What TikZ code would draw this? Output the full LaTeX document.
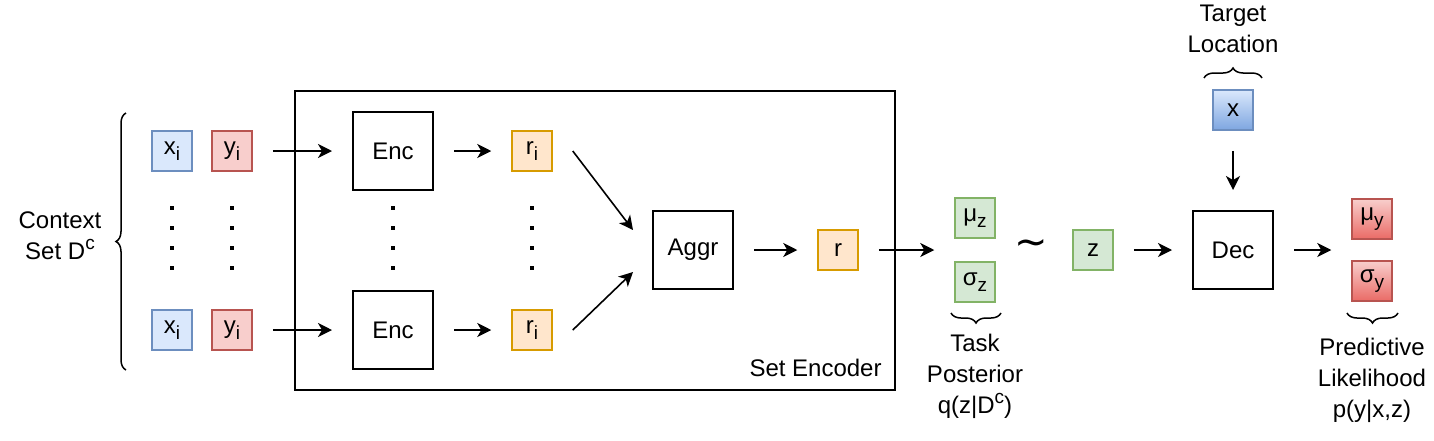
\documentclass[tikz,border=0pt]{standalone}
\usepackage{fontspec}
\setmainfont{Liberation Sans}
\newfontfamily\symfont{DejaVu Sans}
\usetikzlibrary{arrows.meta,calc,positioning,decorations.pathreplacing}

\definecolor{xfill}{HTML}{DAE8FC}
\definecolor{xline}{HTML}{6C8EBF}
\definecolor{yfill}{HTML}{F8CECC}
\definecolor{yline}{HTML}{B85450}
\definecolor{rfill}{HTML}{FFE6CC}
\definecolor{rline}{HTML}{D79B00}
\definecolor{zfill}{HTML}{D5E8D4}
\definecolor{zline}{HTML}{82B366}
\definecolor{xdark}{HTML}{7EA6E0}
\definecolor{ydark}{HTML}{EA6B66}

\newcommand{\lowidx}[1]{\raisebox{-0.45ex}{\fontsize{9.5}{9.5}\selectfont #1}}
\newcommand{\highidx}[1]{\raisebox{0.8ex}{\fontsize{9.5}{9.5}\selectfont #1}}

\tikzset{
  cell/.style={draw, line width=0.75pt, minimum width=20pt, minimum height=20pt, inner sep=0pt},
  xcell/.style={cell, draw=xline, fill=xfill},
  ycell/.style={cell, draw=yline, fill=yfill},
  rcell/.style={cell, draw=rline, fill=rfill},
  zcell/.style={cell, draw=zline, fill=zfill},
  block/.style={draw, line width=1pt, minimum width=40pt, minimum height=39pt, inner sep=0pt},
  flow/.style={->, line width=0.8pt, shorten <=10pt, shorten >=10pt},
  curly/.style={decorate, decoration={brace, amplitude=5pt}, line width=0.75pt},
}

\begin{document}
\begin{tikzpicture}[x=0.5pt, y=-0.5pt, >={Stealth[length=7pt,width=7pt,inset=2pt]},
  font=\fontsize{12}{15.5}\selectfont]
    \useasboundingbox (0,0) rectangle (1434,440);

    % context set
    \node[xcell] (x1) at (172,151) {x\lowidx{i}};
    \node[ycell] (y1) at (232,151) {y\lowidx{i}};
    \node[xcell] (xn) at (172,330) {x\lowidx{i}};
    \node[ycell] (yn) at (232,330) {y\lowidx{i}};
    \draw[curly] (126,370) -- (126,113);
    \node[align=center] (ctx) at (60,236) {Context\\Set D\highidx{c}};

    % set encoder
    \node[draw, line width=1pt, minimum width=300pt, minimum height=149.5pt] (setenc) at (595,240.5) {};
    \node[anchor=south east, inner sep=0pt] (setlab) at ([xshift=-7pt, yshift=7pt]setenc.south east) {Set Encoder};
    \node[block] (enc1) at (393,151) {Enc};
    \node[block] (encn) at (393,330) {Enc};
    \node[rcell] (r1) at (532,151) {r\lowidx{i}};
    \node[rcell] (rn) at (532,330) {r\lowidx{i}};
    \node[block] (aggr) at (693,250) {Aggr};
    \node[rcell] (r) at (838,250) {r};
    \coordinate (aggin1) at (633,230);
    \coordinate (aggin2) at (633,272);

    \foreach \x in {172,232,393,532}
      \foreach \y in {208,228,248,268}
        \fill (\x-2,\y-2) rectangle (\x+2,\y+2);

    % latent
    \node[zcell] (muz) at (975,218) {μ\lowidx{z}};
    \node[zcell] (sigmaz) at (975,282) {σ\lowidx{z}};
    \coordinate (postin) at ($(muz.west)!.5!(sigmaz.west)$);
    \draw[curly] (1001,313) -- (951,313);
    \node[align=center] (post) at (975,376) {Task\\Posterior\\q(z|D\highidx{c})};
    \node[font=\symfont\fontsize{20}{20}\selectfont] (tilde) at (1031,248) {∼};
    \node[zcell] (z) at (1093,250) {z};

    % decoder
    \node[block] (dec) at (1233,250) {Dec};
    \node[cell, draw=xline, top color=xfill, bottom color=xdark] (xt) at (1233,110) {x};
    \draw[curly] (1204,78) -- (1262,78);
    \node[align=center] (tgt) at (1233,29) {Target\\Location};
    \node[cell, draw=yline, top color=yfill, bottom color=ydark] (muy) at (1372,219) {μ\lowidx{y}};
    \node[cell, draw=yline, top color=yfill, bottom color=ydark] (sigmay) at (1372,281) {σ\lowidx{y}};
    \coordinate (outin) at ($(muy.west)!.5!(sigmay.west)$);
    \draw[curly] (1398,313) -- (1347,313);
    \node[align=center] (pred) at (1372,380) {Predictive\\Likelihood\\p(y|x,z)};

    % connectors
    \draw[flow] (y1) -- (enc1);
    \draw[flow] (yn) -- (encn);
    \draw[flow] (enc1) -- (r1);
    \draw[flow] (encn) -- (rn);
    \draw[->, line width=0.8pt] ([xshift=10pt]r1.east) -- (aggin1);
    \draw[->, line width=0.8pt] ([xshift=10pt]rn.east) -- (aggin2);
    \draw[flow] (aggr) -- (r);
    \draw[flow] (r) -- (postin);
    \draw[flow] (z) -- (dec);
    \draw[flow] (xt) -- (dec);
    \draw[flow] (dec) -- (outin);
\end{tikzpicture}
\end{document}
